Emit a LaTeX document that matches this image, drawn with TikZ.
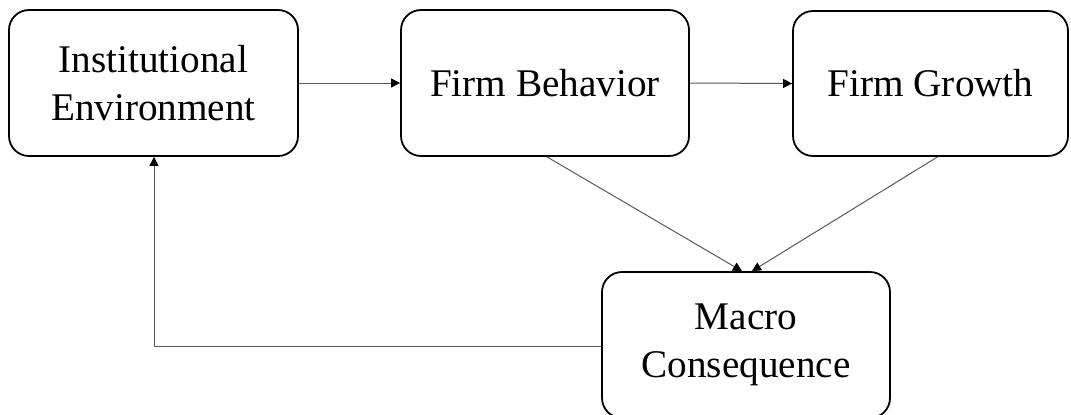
\documentclass[tikz,border=0pt]{standalone}
\usepackage{fontspec}
\setmainfont{Liberation Serif}
\usetikzlibrary{arrows.meta,calc}
\begin{document}
\begin{tikzpicture}[x=0.5pt,y=-0.5pt,
  box/.style={draw, line width=0.9pt, rounded corners=10pt, align=center,
    font=\fontsize{19.6}{24}\selectfont, inner sep=0pt},
  link/.style={draw=black!65, line width=0.5pt,
    -{Triangle[length=4.5pt,width=4.5pt,fill=black,color=black]}}]
  \useasboundingbox (0,0) rectangle (1071,414);
  % boxes
  \node[box, minimum width=144.5pt, minimum height=73pt] (ie) at (153.5,83) {Institutional\\Environment};
  \node[box, minimum width=144pt, minimum height=73pt] (fb) at (545,83) {Firm Behavior};
  \node[box, minimum width=137.5pt, minimum height=72.5pt] (fg) at (930.5,83.5) {Firm Growth};
  \node[box, minimum width=144pt, minimum height=73pt] (mc) at (746,345) {Macro\\Consequence};
  % connectors
  \draw[link] (ie.east) -- (fb.west);
  \draw[link] (fb.east) -- (fg.west);
  \draw[link] ($(fb.south)+(2,0)$) -- ($(mc.north)+(-4,0)$);
  \draw[link] ($(fg.south)+(7,0)$) -- ($(mc.north)+(6,0)$);
  \coordinate (turn) at (154,346);
  \draw[link] (mc.west |- turn) -- (turn) -- (turn |- ie.south);
\end{tikzpicture}
\end{document}
